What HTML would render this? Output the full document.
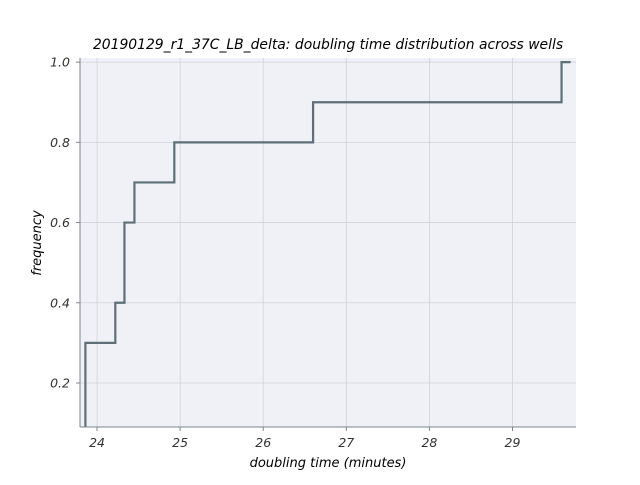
<!DOCTYPE html>
<html><head><meta charset="utf-8"><style>
body{margin:0;background:#fff;width:640px;height:480px;overflow:hidden}
svg text{font-family:"DejaVu Sans","Liberation Sans",sans-serif}
</style></head><body>
<svg id="chart" width="640" height="480">
<text x="328" y="49" text-anchor="middle" font-size="13.9" font-style="italic" fill="#000">20190129_r1_37C_LB_delta: doubling time distribution across wells</text>
<rect x="80" y="58" width="496" height="369" fill="#eff1f6"/>
<g id="grid"></g>
<g id="ticks"></g>
<path id="line" fill="none" stroke="#5e6f78" stroke-width="2.2"/>
<line x1="80" y1="58" x2="80" y2="427" stroke="#7a8590"/>
<line x1="80" y1="427" x2="576" y2="427" stroke="#7a8590"/>
<text x="328" y="467" text-anchor="middle" font-size="13" font-style="italic">doubling time (minutes)</text>
<text transform="translate(41,243) rotate(-90)" text-anchor="middle" font-size="13" font-style="italic">frequency</text>
</svg>
<script>
const xTicks=[24,25,26,27,28,29];
const yTicks=[0.2,0.4,0.6,0.8,1.0];
const stepX=[23.86,24.22,24.33,24.45,24.93,26.6,29.59];
const stepY=[0.3,0.4,0.6,0.7,0.8,0.9,1.0];
const startY=0.09, endX=29.7;
const X0=80,X1=576,Y0=427,Y1=58;
const xmin=23.795,xmax=29.764,ymin=0.0903,ymax=1.0103;
const sx=v=>X0+(v-xmin)/(xmax-xmin)*(X1-X0);
const sy=v=>Y0-(v-ymin)/(ymax-ymin)*(Y0-Y1);
const NS='http://www.w3.org/2000/svg';
const grid=document.getElementById('grid'),ticks=document.getElementById('ticks');
function mk(tag,attrs,parent){const e=document.createElementNS(NS,tag);for(const k in attrs)e.setAttribute(k,attrs[k]);parent.appendChild(e);return e;}
xTicks.forEach(t=>{const x=sx(t);
const g=mk('line',{x1:x,x2:x,y1:Y1,y2:Y0,stroke:'#d0d2d8','stroke-width':0.8},grid);


const tk=mk('line',{x1:x,x2:x,y1:Y0,y2:Y0+4,stroke:'#7a8590'},ticks);


const l=mk('text',{x:x,y:Y0+20,'text-anchor':'middle','font-size':12.5,'font-style':'italic',fill:'#333'},ticks);l.textContent=t;

});
yTicks.forEach(t=>{const y=sy(t);
const g=mk('line',{x1:X0,x2:X1,y1:y,y2:y,stroke:'#d0d2d8','stroke-width':0.8},grid);


const tk=mk('line',{x1:X0-4,x2:X0,y1:y,y2:y,stroke:'#7a8590'},ticks);


const l=mk('text',{x:X0-10,y:y+4.5,'text-anchor':'end','font-size':12.5,'font-style':'italic',fill:'#333'},ticks);l.textContent=t.toFixed(1);

});
let d='M'+sx(stepX[0])+','+sy(startY);
for(let i=0;i<stepX.length;i++){d+=' L'+sx(stepX[i])+','+sy(stepY[i]);const nx=i+1<stepX.length?stepX[i+1]:endX;d+=' L'+sx(nx)+','+sy(stepY[i]);}
document.getElementById('line').setAttribute('d',d);
</script>
</body></html>
